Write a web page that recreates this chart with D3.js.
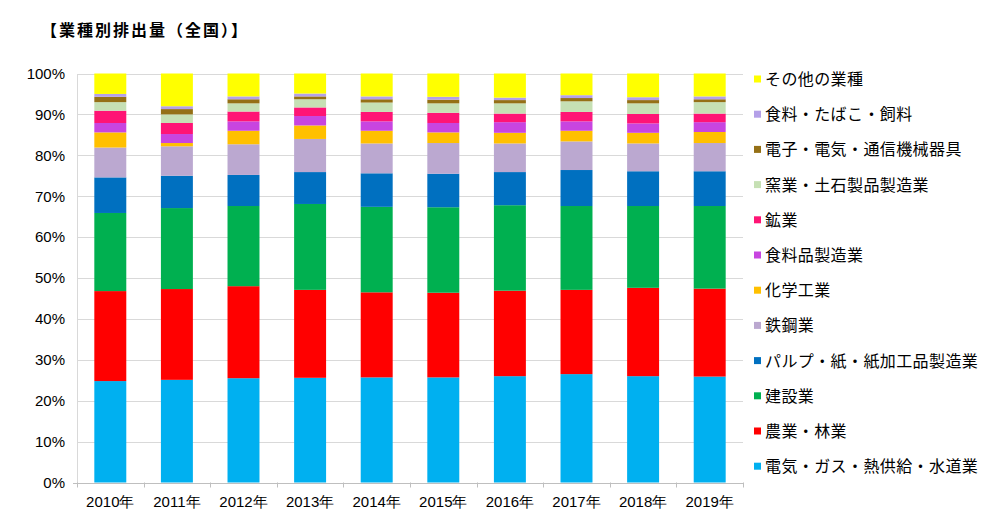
<!DOCTYPE html>
<meta charset="utf-8">
<style>
body { margin: 0; background: #fff; font-family: 'Noto Sans CJK JP', sans-serif; }
.title { font-size: 16px; font-weight: bold; letter-spacing: 2px; }
.tick text { font-family: 'Liberation Sans Narrow', 'Liberation Sans', sans-serif; font-size: 15px; fill: #000; }
.xlab { font-family: 'Liberation Sans Narrow', 'Liberation Sans', sans-serif; font-size: 15px; }
.legend text { font-size: 16px; letter-spacing: 0.4px; }
</style>
<body>
<svg width="1000" height="532"></svg>
<script src="https://d3js.org/d3.v7.min.js"></script>
<script>

var years = ["2010年","2011年","2012年","2013年","2014年","2015年","2016年","2017年","2018年","2019年"];

// bottom to top
var categories = [
  "電気・ガス・熱供給・水道業",
  "農業・林業",
  "建設業",
  "パルプ・紙・紙加工品製造業",
  "鉄鋼業",
  "化学工業",
  "食料品製造業",
  "鉱業",
  "窯業・土石製品製造業",
  "電子・電気・通信機械器具",
  "食料・たばこ・飼料",
  "その他の業種"
];

var colors = ["#00b0f0","#ff0000","#00b050","#0070c0","#bba8d0","#ffc000",
              "#c845e0","#ff1475","#c6e0b4","#957016","#b4a0e8","#ffff00"];

// shares (%), one array per category
var denki   = [24.8, 25.1, 25.5, 25.6, 25.7, 25.7, 26.0, 26.5, 26.0, 25.9];
var nogyo   = [22.0, 22.2, 22.5, 21.5, 20.8, 20.7, 20.9, 20.6, 21.6, 21.5];
var kensetsu= [19.1, 19.8, 19.6, 21.0, 20.9, 20.9, 20.9, 20.5, 20.0, 20.2];
var pulp    = [8.7, 7.9, 7.6, 7.8, 8.2, 8.2, 8.1, 8.8, 8.5, 8.5];
var tekko   = [7.3, 7.2, 7.5, 8.1, 7.3, 7.5, 7.0, 7.0, 6.8, 6.9];
var kagaku  = [3.7, 0.8, 3.3, 3.3, 3.1, 2.6, 2.6, 2.6, 2.6, 2.7];
var shokuhin= [2.3, 2.2, 2.3, 2.3, 2.3, 2.3, 2.6, 2.3, 2.3, 2.4];
var kogyo   = [3.0, 2.7, 2.4, 2.1, 2.3, 2.5, 2.1, 2.3, 2.3, 2.1];
var yogyo   = [2.1, 2.1, 2.0, 2.0, 2.3, 2.3, 2.5, 2.6, 2.6, 2.8];
var denshi  = [1.3, 1.3, 1.0, 0.7, 0.8, 0.9, 0.8, 0.8, 0.8, 0.7];
var tabako  = [0.7, 0.7, 0.7, 0.7, 0.7, 0.7, 0.6, 0.7, 0.7, 0.7];
var sonota  = [5.0, 8.0, 5.6, 4.9, 5.6, 5.7, 5.9, 5.3, 5.8, 5.6];

var series = [denki, nogyo, kensetsu, pulp, tekko, kagaku, shokuhin, kogyo, yogyo, denshi, tabako, sonota];

var rows = years.map(function(y, i) {
  var r = {year: y};
  categories.forEach(function(c, j) { r[c] = series[j][i]; });
  return r;
});

var svg = d3.select("svg");

svg.append("text")
  .attr("class", "title")
  .attr("x", 41)
  .attr("y", 36)
  .text("【業種別排出量（全国）】");

var plotLeft = 77, plotRight = 743, plotTop = 73.5, plotBottom = 482.5;

var x = d3.scaleBand().domain(years).range([plotLeft, plotRight]).paddingInner(0.52).paddingOuter(0.26);
var band = d3.scaleBand().domain(years).range([plotLeft, plotRight]);
var y = d3.scaleLinear().domain([0, 1]).range([plotBottom, plotTop]);

var stacked = d3.stack().keys(categories).offset(d3.stackOffsetExpand)(rows);

// gridlines
svg.append("g")
  .selectAll("line")
  .data(d3.range(1, 11).map(function(d) { return d / 10; }))
  .enter().append("line")
  .attr("x1", plotLeft).attr("x2", plotRight)
  .attr("y1", function(d) { return Math.round(y(d)) + 0.5; })
  .attr("y2", function(d) { return Math.round(y(d)) + 0.5; })
  .attr("stroke", "#d9d9d9");

// y axis
var yAxis = svg.append("g")
  .attr("transform", "translate(" + plotLeft + ",0)")
  .call(d3.axisLeft(y).ticks(10, "%").tickSize(0).tickPadding(12));
yAxis.select(".domain").attr("stroke", "#d9d9d9");

// x axis line with ticks at band edges
svg.append("line")
  .attr("x1", plotLeft - 4).attr("x2", plotRight)
  .attr("y1", Math.round(plotBottom) + 0.5).attr("y2", Math.round(plotBottom) + 0.5)
  .attr("stroke", "#bfbfbf");

svg.append("g")
  .selectAll("line")
  .data(d3.range(years.length + 1))
  .enter().append("line")
  .attr("x1", function(i) { return Math.round(plotLeft + i * band.step()) + 0.5; })
  .attr("x2", function(i) { return Math.round(plotLeft + i * band.step()) + 0.5; })
  .attr("y1", plotBottom).attr("y2", plotBottom + 5)
  .attr("stroke", "#bfbfbf");

svg.append("g")
  .selectAll("text")
  .data(years)
  .enter().append("text")
  .attr("class", "xlab")
  .attr("x", function(d) { return band(d) + band.bandwidth() / 2; })
  .attr("y", 507)
  .attr("text-anchor", "middle")
  .text(function(d) { return d; });

// bars
svg.append("g")
  .selectAll("g")
  .data(stacked)
  .enter().append("g")
  .attr("fill", function(d, i) { return colors[i]; })
  .selectAll("rect")
  .data(function(d) { return d; })
  .enter().append("rect")
  .attr("x", function(d) { return x(d.data.year); })
  .attr("width", x.bandwidth())
  .attr("y", function(d) { return y(d[1]); })
  .attr("height", function(d) { return y(d[0]) - y(d[1]); });

// legend, top item is the last category
var legend = svg.append("g")
  .attr("class", "legend")
  .selectAll("g")
  .data(categories.slice().reverse())
  .enter().append("g")
  .attr("transform", function(d, i) { return "translate(754," + (79 + i * 35.2) + ")"; });

legend.append("rect")
  .attr("x", 0).attr("y", -3.5)
  .attr("width", 7).attr("height", 7)
  .attr("fill", function(d) { return colors[categories.indexOf(d)]; });

legend.append("text")
  .attr("x", 11)
  .attr("y", 6)
  .text(function(d) { return d; });

</script>
</body>
